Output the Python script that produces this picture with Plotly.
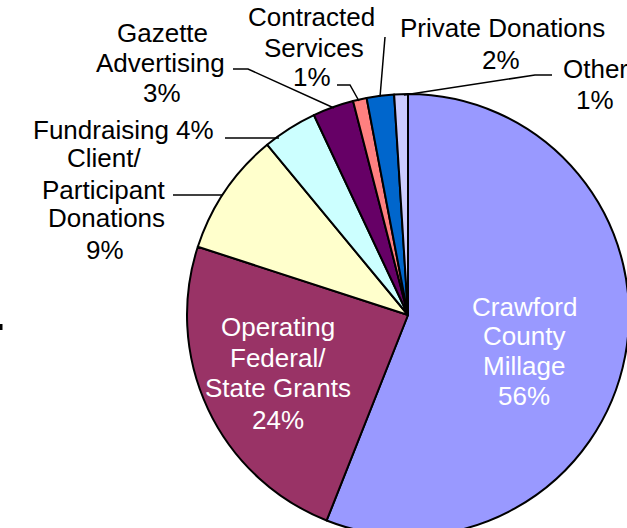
import plotly.graph_objects as go

# ---- data ----
labels = ["Crawford County Millage", "Operating Federal/State Grants",
          "Client/Participant Donations", "Fundraising", "Gazette Advertising",
          "Contracted Services", "Private Donations", "Other"]
values = [56, 24, 9, 4, 3, 1, 2, 1]
# how each label is broken into lines in the chart
label_lines = [["Crawford", "County", "Millage"],
               ["Operating", "Federal/", "State Grants"],
               ["Client/", "Participant", "Donations"],
               ["Fundraising"],
               ["Gazette", "Advertising"],
               ["Contracted", "Services"],
               ["Private Donations"],
               ["Other"]]
colors = ["#9999FF", "#993366", "#FFFFCC", "#CCFFFF", "#660066",
          "#FF8080", "#0066CC", "#CCCCFF"]

# ---- layout geometry (pixels) ----
W, H = 660, 560
CX, CY, R = 408, 315, 221
FONT = "Liberation Sans, Arial, sans-serif"
FS = 26


def px(x):
    return x / W


def py(y):
    return 1 - y / H


fig = go.Figure(go.Pie(
    labels=labels, values=values, sort=False, direction="clockwise", rotation=0,
    marker=dict(colors=colors, line=dict(color="black", width=2)),
    textinfo="none", hoverinfo="label+percent", showlegend=False,
    domain=dict(x=[px(CX - R), px(CX + R)], y=[py(CY + R), py(CY - R)]),
))

# per-line positions of each label block (x centre, y centre of each line)
line_pos = [
    [(524, 307), (524, 336), (524, 366), (524, 396)],
    [(278, 327), (278, 358), (278, 388), (278, 420)],
    [(104, 158), (104, 190), (106, 218), (105, 250)],
    [(124, 130)],
    [(162, 33), (160, 63), (162, 93)],
    [(311, 17), (314, 48), (312, 77)],
    [(502, 28), (501, 60)],
    [(595, 69), (595, 100)],
]
text_colors = ["white", "white"] + ["black"] * 6
total = sum(values)
for lines, v, pos, c in zip(label_lines, values, line_pos, text_colors):
    pct = f"{round(100 * v / total)}%"
    if len(pos) == len(lines):
        texts = lines[:-1] + [lines[-1] + " " + pct]
    else:
        texts = lines + [pct]
    for t, (x, y) in zip(texts, pos):
        fig.add_annotation(x=px(x), y=py(y), xref="paper", yref="paper",
                           text=t, showarrow=False,
                           xanchor="center", yanchor="middle",
                           font=dict(family=FONT, size=FS, color=c))

# leader lines (pixels)
leaders = [
    [(233, 69), (248, 69), (334, 108)],
    [(225, 138), (279, 138)],
    [(173, 195), (223, 195)],
    [(337, 85), (350, 85), (359, 101)],
    [(385, 37), (380, 97)],
    [(552, 75), (535, 75), (404, 95)],
]
for pts in leaders:
    path = "M " + " L ".join(f"{px(x)},{py(y)}" for x, y in pts)
    fig.add_shape(type="path", path=path, xref="paper", yref="paper",
                  line=dict(color="black", width=1.5))

# small tick mark at left edge
fig.add_shape(type="rect", xref="paper", yref="paper",
              x0=px(0), x1=px(2.5), y0=py(330), y1=py(324),
              line=dict(width=0), fillcolor="black")

fig.update_layout(width=W, height=H, margin=dict(l=0, r=0, t=0, b=0),
                  paper_bgcolor="white", plot_bgcolor="white")

fig.write_html("out.html", config={"displayModeBar": False}, post_script=(
    "document.documentElement.style.overflow='hidden';"
    "document.body.style.overflow='hidden';"
    "document.body.style.margin='0';"))
